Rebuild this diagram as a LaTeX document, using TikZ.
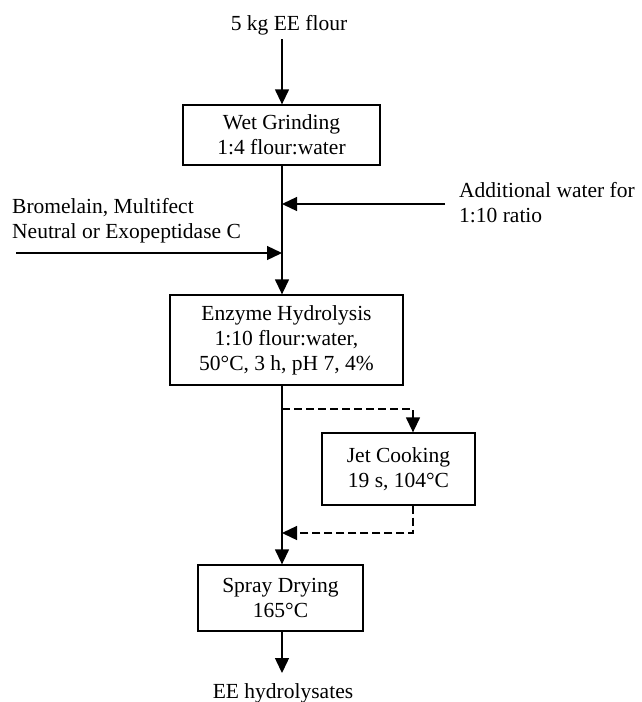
\documentclass[tikz,border=0pt]{standalone}
\usepackage{fontspec}
\setmainfont{Liberation Serif}
\usetikzlibrary{arrows.meta}
\begin{document}
\begin{tikzpicture}[x=1pt,y=-1pt,
  every node/.style={font=\fontsize{21.5}{25}\selectfont},
  box/.style={draw,line width=1.3pt,align=center,inner sep=0pt},
  lbl/.style={inner sep=0pt,align=left},
  flow/.style={line width=1.3pt,-{Triangle[length=15pt,width=14pt]}},
  dflow/.style={flow,dash pattern=on 8pt off 4pt}]
\useasboundingbox (0,0) rectangle (641,702);
\node[inner sep=0pt] (src) at (289,25) {5 kg EE flour};
\node[box,minimum width=197pt,minimum height=60pt] (wg) at (281.5,135) {Wet Grinding\\1:4 flour:water};
\node[lbl,anchor=west] (aw) at (459,203) {Additional water for\\1:10 ratio};
\node[lbl,anchor=west] (enz) at (12,221) {Bromelain, Multifect\\Neutral or Exopeptidase C};
\node[box,minimum width=233pt,minimum height=90pt] (eh) at (286.5,340) {Enzyme Hydrolysis\\1:10 flour:water,\\50\textdegree C, 3 h, pH 7, 4\%};
\node[box,minimum width=153pt,minimum height=72pt] (jc) at (398.5,469) {Jet Cooking\\19 s, 104\textdegree C};
\node[box,minimum width=165pt,minimum height=66pt] (sd) at (280.5,598) {Spray Drying\\165\textdegree C};
\node[inner sep=0pt] (out) at (283,693) {EE hydrolysates};
\coordinate (ja) at (282,204);
\coordinate (jb) at (282,253);
\coordinate (jd) at (282,409);
\coordinate (je) at (282,533);
\coordinate (jt) at (413,0);
\draw[flow,shorten <=4pt] (src.south -| ja) -- (ja |- wg.north);
\draw[flow] (wg.south -| ja) -- (ja |- eh.north);
\draw[flow] ([xshift=-14pt]aw.west |- ja) -- (ja);
\draw[flow] ([xshift=4pt]enz.west |- jb) -- (jb);
\draw[flow] (eh.south -| ja) -- (ja |- sd.north);
\draw[dflow] (jd) -- (jd -| jt) -- (jt |- jc.north);
\draw[dflow] (jt |- jc.south) -- (jt |- je) -- (je);
\draw[flow,shorten >=10pt] (sd.south -| ja) -- (out.north -| ja);
\end{tikzpicture}
\end{document}
